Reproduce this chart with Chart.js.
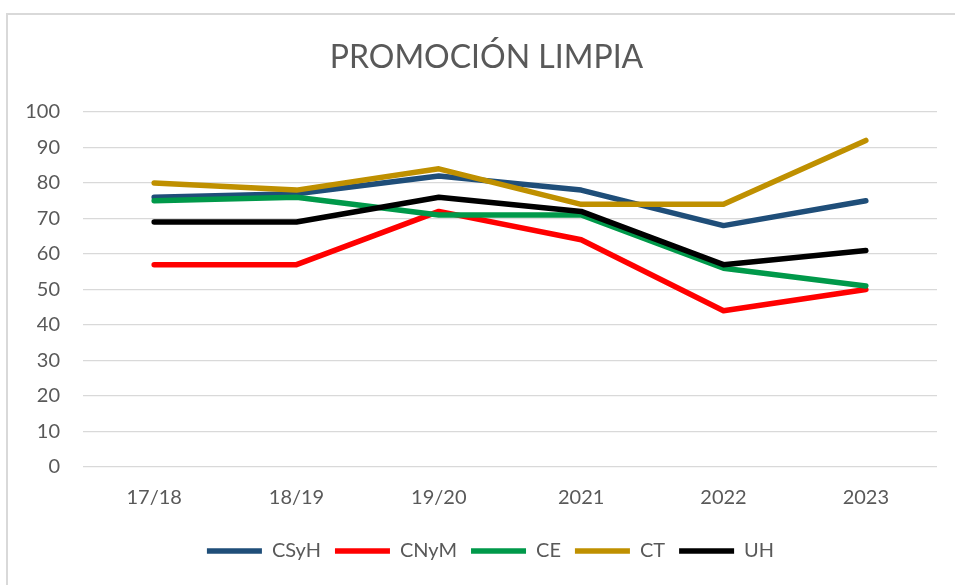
<!DOCTYPE html>
<html>
<head>
<meta charset="utf-8">
<script src="https://cdn.jsdelivr.net/npm/chart.js@4/dist/chart.umd.min.js"></script>
<style>
  body { margin: 0; background: #fff; }
  #wrap { position: relative; width: 955px; height: 585px; overflow: hidden; }
  #frame { position: absolute; left: 6px; top: 13px; width: 1000px; height: 640px; border: 2px solid #d9d9d9; }
  canvas { position: absolute; left: 0; top: 0; }
</style>
</head>
<body>
<div id="wrap">
  <div id="frame"></div>
  <canvas id="chart" width="955" height="585"></canvas>
</div>
<script>
// Promoción limpia por centro
const years = ["17/18", "18/19", "19/20", "2021", "2022", "2023"];

const csyh = [76, 77, 82, 78, 68, 75];
const cnym = [57, 57, 72, 64, 44, 50];
const ce = [75, 76, 71, 71, 56, 51];
const ct = [80, 78, 84, 74, 74, 92];
const uh = [69, 69, 76, 72, 57, 61];

const seriesNames = ["CSyH", "CNyM", "CE", "CT", "UH"];
const seriesColors = ["#1f4e79", "#ff0000", "#00994a", "#bf9000", "#000000"];
const seriesValues = [csyh, cnym, ce, ct, uh];

const textColor = "#595959";
const fontFamily = "Lato, 'Open Sans', sans-serif";

const datasets = seriesValues.map((vals, i) => ({
  label: seriesNames[i],
  data: vals,
  borderColor: seriesColors[i],
  backgroundColor: seriesColors[i],
  borderWidth: 5.5,
  borderCapStyle: "round",
  borderJoinStyle: "round",
  pointRadius: 0,
  tension: 0,
  order: -i, // later series drawn on top, like the original
}));

// title and legend sit a little right of the canvas centre in the original
const nudgeBlocks = {
  id: "nudgeBlocks",
  afterLayout(chart) {
    if (chart.titleBlock) {
      chart.titleBlock.left += 18;
      chart.titleBlock.right += 18;
    }
    if (chart.legend) {
      chart.legend.left += 22;
      chart.legend.right += 22;
    }
  },
};

new Chart(document.getElementById("chart"), {
  type: "line",
  data: { labels: years, datasets },
  plugins: [nudgeBlocks],
  options: {
    responsive: false,
    animation: false,
    layout: { padding: { top: 0, left: 0, right: 18, bottom: 14 } },
    plugins: {
      title: {
        display: true,
        text: "PROMOCIÓN LIMPIA",
        color: textColor,
        font: { family: fontFamily, size: 32, weight: "normal" },
        padding: { top: 38, bottom: 35.6 },
      },
      legend: {
        position: "bottom",
        labels: {
          color: textColor,
          font: { family: fontFamily, size: 20 },
          usePointStyle: true,
          pointStyle: "line",
          pointStyleWidth: 55,
          padding: 14,
          sort: (a, b) => a.datasetIndex - b.datasetIndex,
        },
      },
      tooltip: { enabled: false },
    },
    scales: {
      x: {
        offset: true,
        grid: { display: false, drawTicks: false },
        border: { display: false },
        ticks: { color: textColor, font: { family: fontFamily, size: 20 }, padding: 19 },
        afterFit: (s) => { s.height = 60; },
      },
      y: {
        min: 0,
        max: 100,
        ticks: { stepSize: 10, color: textColor, font: { family: fontFamily, size: 20 }, padding: 23 },
        grid: { color: "#d9d9d9", lineWidth: 1.3, drawTicks: false },
        border: { display: false },
        afterFit: (s) => { s.width = 83; },
      },
    },
  },
});
</script>
</body>
</html>
